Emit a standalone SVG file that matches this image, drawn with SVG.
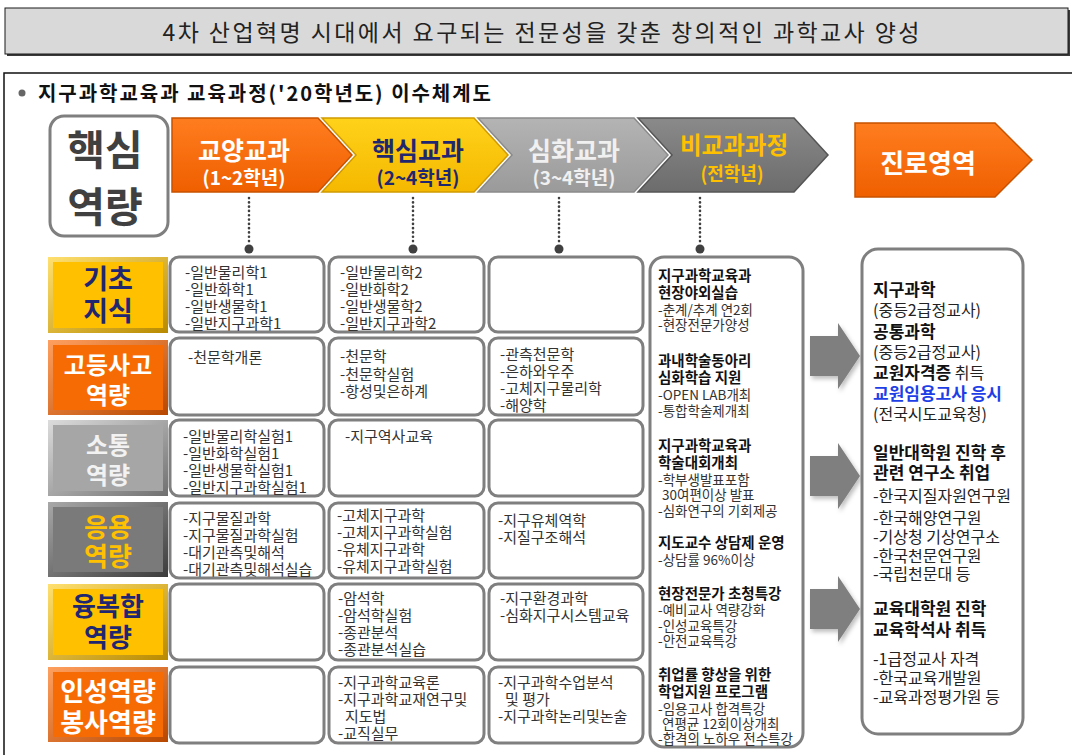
<svg xmlns="http://www.w3.org/2000/svg" width="1072" height="755" viewBox="0 0 1072 755">
<defs>
<linearGradient id="bvO" x1="0" y1="0" x2="1" y2="1"><stop offset="0" stop-color="#ffa060"/><stop offset="1" stop-color="#b84800"/></linearGradient>
<linearGradient id="bvY" x1="0" y1="0" x2="1" y2="1"><stop offset="0" stop-color="#ffe070"/><stop offset="1" stop-color="#b88a00"/></linearGradient>
<linearGradient id="bvG" x1="0" y1="0" x2="1" y2="1"><stop offset="0" stop-color="#dcdcdc"/><stop offset="1" stop-color="#707070"/></linearGradient>
<linearGradient id="bvD" x1="0" y1="0" x2="1" y2="1"><stop offset="0" stop-color="#a8a8a8"/><stop offset="1" stop-color="#3c3c3c"/></linearGradient>
<linearGradient id="chO" x1="0" y1="0" x2="0" y2="1"><stop offset="0" stop-color="#ff7d1f"/><stop offset="1" stop-color="#ef5f00"/></linearGradient>
<linearGradient id="chY" x1="0" y1="0" x2="0" y2="1"><stop offset="0" stop-color="#ffd21a"/><stop offset="1" stop-color="#f5b800"/></linearGradient>
<linearGradient id="chG" x1="0" y1="0" x2="0" y2="1"><stop offset="0" stop-color="#b4b4b4"/><stop offset="1" stop-color="#9a9a9a"/></linearGradient>
<linearGradient id="chD" x1="0" y1="0" x2="0" y2="1"><stop offset="0" stop-color="#8a8a8a"/><stop offset="1" stop-color="#6c6c6c"/></linearGradient>
<filter id="shd" x="-20%" y="-20%" width="150%" height="150%"><feDropShadow dx="2" dy="3" stdDeviation="2" flood-color="#000" flood-opacity="0.25"/></filter>
</defs>
<style>
text{font-family:"Noto Sans CJK KR","Noto Sans",sans-serif}
.cell{fill:#fff;stroke:#7f7f7f;stroke-width:3}
.ct{font-size:15px;fill:#333}
.nb{font-size:14.5px;font-weight:bold;fill:#111}
.nn{font-size:13.5px;fill:#333}
.rb{font-size:17px;font-weight:bold;fill:#111}
.rn{font-size:16px;fill:#222}
.lb{font-weight:bold;text-anchor:middle}
.hd{font-weight:bold;text-anchor:middle}
.dot{stroke:#404040;stroke-width:2.6;stroke-linecap:round;stroke-dasharray:0.1 4.2;fill:none}
.arw{fill:#7f7f7f;filter:url(#shd)}
</style>

<g id="title">
<rect x="7" y="10" width="1063" height="46" fill="#3a3a3a"/>
<rect x="5" y="8" width="1063" height="46" fill="#d9d9d9" stroke="#1a1a1a" stroke-width="1"/>
<text x="541" y="41" font-size="23" fill="#222" text-anchor="middle" textLength="757" lengthAdjust="spacing">4차 산업혁명 시대에서 요구되는 전문성을 갖춘 창의적인 과학교사 양성</text>
</g>

<g id="frame">
<rect x="4" y="73" width="1090" height="700" fill="none" stroke="#111" stroke-width="1.5"/>
<circle cx="22" cy="93" r="3.5" fill="#666"/>
<text x="38" y="101" font-size="20" font-weight="bold" fill="#111" textLength="453" lengthAdjust="spacing">지구과학교육과 교육과정('20학년도) 이수체계도</text>
</g>

<g id="core-header">
<rect x="50" y="116" width="118" height="120" rx="14" fill="#fff" stroke="#7f7f7f" stroke-width="3"/>
<text x="105" y="165" font-size="41" class="lb" fill="#404040">핵심</text>
<text x="105" y="222" font-size="41" class="lb" fill="#404040">역량</text>
</g>

<g id="h-general">
<polygon points="172,118 318,118 352,155 318,192 172,192" fill="url(#chO)" stroke="#c75200" stroke-width="1.5"/>
<text x="244" y="160" font-size="25" class="hd" fill="#fff">교양교과</text>
<text x="244" y="185" font-size="19" class="hd" fill="#fff">(1~2학년)</text>
</g>
<g id="h-core">
<polygon points="322,118 474,118 508,155 474,192 322,192 356,155" fill="url(#chY)" stroke="#d09a00" stroke-width="1.5"/>
<text x="418" y="160" font-size="25" class="hd" fill="#1f2770">핵심교과</text>
<text x="418" y="185" font-size="19" class="hd" fill="#1f2770">(2~4학년)</text>
</g>
<g id="h-advanced">
<polygon points="478,118 634,118 668,155 634,192 478,192 512,155" fill="url(#chG)" stroke="#8a8a8a" stroke-width="1.5"/>
<text x="574" y="160" font-size="25" class="hd" fill="#f0f0f0">심화교과</text>
<text x="574" y="185" font-size="19" class="hd" fill="#f0f0f0">(3~4학년)</text>
</g>
<g id="h-extra">
<polygon points="638,118 794,118 828,155 794,192 638,192 672,155" fill="url(#chD)" stroke="#555" stroke-width="1.5"/>
<text x="734" y="154" font-size="24" class="hd" fill="#ffc000" textLength="108" lengthAdjust="spacingAndGlyphs">비교과과정</text>
<text x="732" y="181" font-size="19" class="hd" fill="#ffc000" textLength="63" lengthAdjust="spacingAndGlyphs">(전학년)</text>
</g>
<g id="h-career">
<polygon points="855,123 995,123 1032,160 995,197 855,197" fill="url(#chO)" stroke="#c75200" stroke-width="1.5"/>
<text x="928" y="173" font-size="26" class="hd" fill="#fff">진로영역</text>
</g>

<g id="connectors">
<line x1="249" y1="198" x2="249" y2="244" class="dot"/><circle cx="249" cy="249" r="4.5" fill="#404040"/>
<line x1="413" y1="198" x2="413" y2="244" class="dot"/><circle cx="413" cy="249" r="4.5" fill="#404040"/>
<line x1="559" y1="198" x2="559" y2="244" class="dot"/><circle cx="559" cy="249" r="4.5" fill="#404040"/>
<line x1="700" y1="198" x2="700" y2="244" class="dot"/><circle cx="700" cy="249" r="4.5" fill="#404040"/>
<polygon class="arw" points="810,336 838,336 838,323 860,356 838,389 838,376 810,376"/>
<polygon class="arw" points="810,456 838,456 838,443 860,476 838,509 838,496 810,496"/>
<polygon class="arw" points="810,589 838,589 838,576 860,609 838,642 838,629 810,629"/>
</g>

<g id="r-basic">
<rect x="48" y="257" width="120" height="76" fill="url(#bvY)"/>
<rect x="53" y="262" width="110" height="66" fill="#ffc000"/>
<text x="108" y="289" font-size="27" class="lb" fill="#1f2770">기초</text>
<text x="108" y="321" font-size="27" class="lb" fill="#1f2770">지식</text>
</g>
<g id="r-higher">
<rect x="48" y="340" width="120" height="75" fill="url(#bvO)"/>
<rect x="53" y="345" width="110" height="65" fill="#f76b05"/>
<text x="108" y="374" font-size="24" class="lb" fill="#fff">고등사고</text>
<text x="108" y="404" font-size="24" class="lb" fill="#fff">역량</text>
</g>
<g id="r-comm">
<rect x="48" y="420" width="120" height="76" fill="url(#bvG)"/>
<rect x="53" y="425" width="110" height="66" fill="#a6a6a6"/>
<text x="108" y="454" font-size="24" class="lb" fill="#f2f2f2">소통</text>
<text x="108" y="484" font-size="24" class="lb" fill="#f2f2f2">역량</text>
</g>
<g id="r-apply">
<rect x="48" y="502" width="120" height="75" fill="url(#bvD)"/>
<rect x="53" y="507" width="110" height="65" fill="#7a7a7a"/>
<text x="108" y="537" font-size="26" class="lb" fill="#ffc000">응용</text>
<text x="108" y="566" font-size="26" class="lb" fill="#ffc000">역량</text>
</g>
<g id="r-conv">
<rect x="48" y="584" width="120" height="76" fill="url(#bvY)"/>
<rect x="53" y="589" width="110" height="66" fill="#ffc000"/>
<text x="108" y="616" font-size="26" class="lb" fill="#1f2770">융복합</text>
<text x="108" y="647" font-size="26" class="lb" fill="#1f2770">역량</text>
</g>
<g id="r-char">
<rect x="48" y="667" width="120" height="75" fill="url(#bvO)"/>
<rect x="53" y="672" width="110" height="65" fill="#f76b05"/>
<text x="108" y="701" font-size="26" class="lb" fill="#fff">인성역량</text>
<text x="108" y="732" font-size="26" class="lb" fill="#fff">봉사역량</text>
</g>

<g id="c1-r1"><rect class="cell" x="170" y="257" width="154" height="75" rx="9"/>
<text class="ct" x="185" y="278">-일반물리학1</text><text class="ct" x="185" y="295">-일반화학1</text><text class="ct" x="185" y="312">-일반생물학1</text><text class="ct" x="185" y="329">-일반지구과학1</text></g>
<g id="c2-r1"><rect class="cell" x="329" y="257" width="155" height="75" rx="9"/>
<text class="ct" x="340" y="278">-일반물리학2</text><text class="ct" x="340" y="295">-일반화학2</text><text class="ct" x="340" y="312">-일반생물학2</text><text class="ct" x="340" y="329">-일반지구과학2</text></g>
<g id="c3-r1"><rect class="cell" x="489" y="257" width="154" height="75" rx="9"/></g>

<g id="c1-r2"><rect class="cell" x="170" y="338" width="154" height="77" rx="9"/>
<text class="ct" x="188" y="363">-천문학개론</text></g>
<g id="c2-r2"><rect class="cell" x="329" y="338" width="155" height="77" rx="9"/>
<text class="ct" x="340" y="362">-천문학</text><text class="ct" x="340" y="380">-천문학실험</text><text class="ct" x="340" y="397">-항성및은하계</text></g>
<g id="c3-r2"><rect class="cell" x="489" y="338" width="154" height="77" rx="9"/>
<text class="ct" x="500" y="360">-관측천문학</text><text class="ct" x="500" y="377">-은하와우주</text><text class="ct" x="500" y="394">-고체지구물리학</text><text class="ct" x="500" y="411">-해양학</text></g>

<g id="c1-r3"><rect class="cell" x="170" y="420" width="154" height="76" rx="9"/>
<text class="ct" x="183" y="442">-일반물리학실험1</text><text class="ct" x="183" y="459">-일반화학실험1</text><text class="ct" x="183" y="476">-일반생물학실험1</text><text class="ct" x="183" y="493">-일반지구과학실험1</text></g>
<g id="c2-r3"><rect class="cell" x="329" y="420" width="155" height="76" rx="9"/>
<text class="ct" x="345" y="442">-지구역사교육</text></g>
<g id="c3-r3"><rect class="cell" x="489" y="420" width="154" height="76" rx="9"/></g>

<g id="c1-r4"><rect class="cell" x="170" y="503" width="154" height="75" rx="9"/>
<text class="ct" x="183" y="524">-지구물질과학</text><text class="ct" x="183" y="541">-지구물질과학실험</text><text class="ct" x="183" y="558">-대기관측및해석</text><text class="ct" x="183" y="575">-대기관측및해석실습</text></g>
<g id="c2-r4"><rect class="cell" x="329" y="503" width="155" height="75" rx="9"/>
<text class="ct" x="337" y="521">-고체지구과학</text><text class="ct" x="337" y="538">-고체지구과학실험</text><text class="ct" x="337" y="555">-유체지구과학</text><text class="ct" x="337" y="572">-유체지구과학실험</text></g>
<g id="c3-r4"><rect class="cell" x="489" y="503" width="154" height="75" rx="9"/>
<text class="ct" x="498" y="526">-지구유체역학</text><text class="ct" x="498" y="543">-지질구조해석</text></g>

<g id="c1-r5"><rect class="cell" x="170" y="584" width="154" height="76" rx="9"/></g>
<g id="c2-r5"><rect class="cell" x="329" y="584" width="155" height="76" rx="9"/>
<text class="ct" x="338" y="604">-암석학</text><text class="ct" x="338" y="621">-암석학실험</text><text class="ct" x="338" y="638">-종관분석</text><text class="ct" x="338" y="655">-종관분석실습</text></g>
<g id="c3-r5"><rect class="cell" x="489" y="584" width="154" height="76" rx="9"/>
<text class="ct" x="500" y="604">-지구환경과학</text><text class="ct" x="500" y="621">-심화지구시스템교육</text></g>

<g id="c1-r6"><rect class="cell" x="170" y="667" width="154" height="76" rx="9"/></g>
<g id="c2-r6"><rect class="cell" x="329" y="667" width="155" height="76" rx="9"/>
<text class="ct" x="338" y="688">-지구과학교육론</text><text class="ct" x="338" y="705">-지구과학교재연구및</text><text class="ct" x="345" y="722">지도법</text><text class="ct" x="338" y="739">-교직실무</text></g>
<g id="c3-r6"><rect class="cell" x="489" y="667" width="154" height="76" rx="9"/>
<text class="ct" x="498" y="688">-지구과학수업분석</text><text class="ct" x="505" y="705">및 평가</text><text class="ct" x="498" y="722">-지구과학논리및논술</text></g>

<g id="extra-box"><rect class="cell" x="650" y="257" width="153" height="490" rx="14"/>
<text class="nb" x="658" y="281">지구과학교육과</text>
<text class="nb" x="658" y="298">현장야외실습</text>
<text class="nn" x="658" y="315">-춘계/추계 연2회</text>
<text class="nn" x="658" y="330">-현장전문가양성</text>
<text class="nb" x="658" y="366">과내학술동아리</text>
<text class="nb" x="658" y="383">심화학습 지원</text>
<text class="nn" x="658" y="400">-OPEN LAB개최</text>
<text class="nn" x="658" y="416">-통합학술제개최</text>
<text class="nb" x="658" y="451">지구과학교육과</text>
<text class="nb" x="658" y="468">학술대회개최</text>
<text class="nn" x="658" y="485">-학부생발표포함</text>
<text class="nn" x="662" y="500">30여편이상 발표</text>
<text class="nn" x="658" y="516">-심화연구의 기회제공</text>
<text class="nb" x="658" y="548">지도교수 상담제 운영</text>
<text class="nn" x="658" y="565">-상담률 96%이상</text>
<text class="nb" x="658" y="599">현장전문가 초청특강</text>
<text class="nn" x="658" y="615">-예비교사 역량강화</text>
<text class="nn" x="658" y="631">-인성교육특강</text>
<text class="nn" x="658" y="646">-안전교육특강</text>
<text class="nb" x="658" y="680">취업률 향상을 위한</text>
<text class="nb" x="658" y="697">학업지원 프로그램</text>
<text class="nn" x="658" y="714">-임용고사 합격특강</text>
<text class="nn" x="662" y="729">연평균 12회이상개최</text>
<text class="nn" x="658" y="744">-합격의 노하우 전수특강</text>
</g>

<g id="career-box"><rect class="cell" x="862" y="249" width="161" height="485" rx="16"/>
<text class="rb" x="873" y="296">지구과학</text>
<text class="rn" x="873" y="316">(중등2급정교사)</text>
<text class="rb" x="873" y="338">공통과학</text>
<text class="rn" x="873" y="358">(중등2급정교사)</text>
<text x="873" y="379"><tspan class="rb">교원자격증</tspan><tspan class="rn"> 취득</tspan></text>
<text class="rb" x="873" y="400" style="fill:#1e3ee6">교원임용고사 응시</text>
<text class="rn" x="873" y="420">(전국시도교육청)</text>
<text class="rb" x="873" y="459">일반대학원 진학 후</text>
<text class="rb" x="873" y="479">관련 연구소 취업</text>
<text class="rn" x="873" y="502">-한국지질자원연구원</text>
<text class="rn" x="873" y="524">-한국해양연구원</text>
<text class="rn" x="873" y="543">-기상청 기상연구소</text>
<text class="rn" x="873" y="562">-한국천문연구원</text>
<text class="rn" x="873" y="580">-국립천문대 등</text>
<text class="rb" x="873" y="615">교육대학원 진학</text>
<text class="rb" x="873" y="636">교육학석사 취득</text>
<text class="rn" x="873" y="665">-1급정교사 자격</text>
<text class="rn" x="873" y="684">-한국교육개발원</text>
<text class="rn" x="873" y="703">-교육과정평가원 등</text>
</g>
</svg>
